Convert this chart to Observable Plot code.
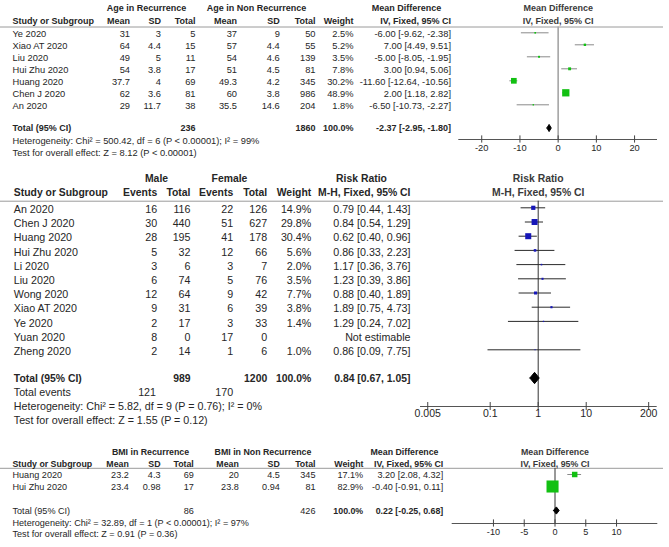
<!DOCTYPE html>
<html><head><meta charset="utf-8">
<script src="https://cdn.jsdelivr.net/npm/d3@7"></script>
<script src="https://cdn.jsdelivr.net/npm/@observablehq/plot@0.6"></script>
<style>
body{margin:0;background:#fff;}
#chart{width:669px;}
#chart svg{display:block;overflow:visible;}
</style></head><body><div id="chart"></div>
<script>
// ---------- Panel 1: Age ----------
const ageStudies = ["Ye 2020","Xiao AT 2020","Liu 2020","Hui Zhu 2020","Huang 2020","Chen J 2020","An 2020"];
const ageRecMean = [31,64,49,54,37.7,62,29];
const ageRecSD   = [3,4.4,5,3.8,4,3.6,11.7];
const ageRecN    = [5,15,11,17,69,81,38];
const ageNonMean = [37,57,54,51,49.3,60,35.5];
const ageNonSD   = [9,4.4,4.6,4.5,4.2,3.8,14.6];
const ageNonN    = [50,55,139,81,345,986,204];
const ageWeight  = [2.5,5.2,3.5,7.8,30.2,48.9,1.8];
const ageMD      = [-6.00,7.00,-5.00,3.00,-11.60,2.00,-6.50];
const ageLo      = [-9.62,4.49,-8.05,0.94,-12.64,1.18,-10.73];
const ageHi      = [-2.38,9.51,-1.95,5.06,-10.56,2.82,-2.27];
const ageTotal   = {n1:236, n2:1860, w:100.0, est:-2.37, lo:-2.95, hi:-1.80};
const ageHet     = "Heterogeneity: Chi² = 500.42, df = 6 (P < 0.00001); I² = 99%";
const ageTest    = "Test for overall effect: Z = 8.12 (P < 0.00001)";
const ageTicks   = [-20,-10,0,10,20];

// ---------- Panel 2: Sex ----------
const sexStudies = ["An 2020","Chen J 2020","Huang 2020","Hui Zhu 2020","Li 2020","Liu 2020","Wong 2020","Xiao AT 2020","Ye 2020","Yuan 2020","Zheng 2020"];
const maleEvents = [16,30,28,5,3,6,12,9,2,8,2];
const maleTotal  = [116,440,195,32,6,74,64,31,17,0,14];
const femEvents  = [22,51,41,12,3,5,9,6,3,17,1];
const femTotal   = [126,627,178,66,7,76,42,39,33,0,6];
const sexWeight  = [14.9,29.8,30.4,5.6,2.0,3.5,7.7,3.8,1.4,null,1.0];
const sexRR      = [0.79,0.84,0.62,0.86,1.17,1.23,0.88,1.89,1.29,null,0.86];
const sexLo      = [0.44,0.54,0.40,0.33,0.36,0.39,0.40,0.75,0.24,null,0.09];
const sexHi      = [1.43,1.29,0.96,2.23,3.76,3.86,1.89,4.73,7.02,null,7.75];
const sexTotal   = {n1:989, n2:1200, w:100.0, est:0.84, lo:0.67, hi:1.05, ev1:121, ev2:170};
const sexHet     = "Heterogeneity: Chi² = 5.82, df = 9 (P = 0.76); I² = 0%";
const sexTest    = "Test for overall effect: Z = 1.55 (P = 0.12)";
const sexTicks   = [0.005,0.1,1,10,200];

// ---------- Panel 3: BMI ----------
const bmiStudies = ["Huang 2020","Hui Zhu 2020"];
const bmiRecMean = [23.2,23.4];
const bmiRecSD   = [4.3,0.98];
const bmiRecN    = [69,17];
const bmiNonMean = [20,23.8];
const bmiNonSD   = [4.5,0.94];
const bmiNonN    = [345,81];
const bmiWeight  = [17.1,82.9];
const bmiMD      = [3.20,-0.40];
const bmiLo      = [2.08,-0.91];
const bmiHi      = [4.32,0.11];
const bmiTotal   = {n1:86, n2:426, w:100.0, est:0.22, lo:-0.25, hi:0.68};
const bmiHet     = "Heterogeneity: Chi² = 32.89, df = 1 (P < 0.00001); I² = 97%";
const bmiTest    = "Test for overall effect: Z = 0.91 (P = 0.36)";
const bmiTicks   = [-10,-5,0,5,10];

// ---------- helpers ----------
const FONT = "'Liberation Sans', Arial, sans-serif";
const INK = "#262626";
const W = 669;
const f2 = v => v.toFixed(2);
const ci = (e,l,h) => `${f2(e)} [${f2(l)}, ${f2(h)}]`;
const pct = w => w.toFixed(1) + "%";

function colText(rows, text, x, o = {}) {
  return Plot.text(rows, {
    y: o.y ?? "r", text, frameAnchor: "left", dx: x,
    textAnchor: o.anchor ?? "end", lineAnchor: "middle",
    fontSize: o.size, fontWeight: o.bold ? "bold" : "normal",
    fill: INK, dy: o.dy ?? 0
  });
}
function label(str, x, r, o = {}) {
  return colText([str], d => d, x, {...o, y: () => r});
}
function diamond(t, R, h) {
  return [{x:t.lo,y:R},{x:t.est,y:R-h},{x:t.hi,y:R},{x:t.est,y:R+h},{x:t.lo,y:R}];
}
function forestMarks(cfg) {
  const d = cfg.xDomain;
  return [
    Plot.ruleY([cfg.headLineR], {stroke: "#9a9a9a", strokeWidth: 1}),
    Plot.ruleX([cfg.nullValue], {y1: () => cfg.headLineR, y2: () => cfg.axisR, stroke: cfg.zeroColor, strokeWidth: cfg.zeroWidth}),
    Plot.ruleY([cfg.axisR], {x1: () => d[0], x2: () => d[1], stroke: "#555"}),
    Plot.ruleX(cfg.ticks, {x: t => t, y1: () => cfg.axisR - cfg.tickHalf, y2: () => cfg.axisR + cfg.tickHalf, stroke: "#444"}),
    Plot.text(cfg.ticks, {x: t => t, text: t => String(t), frameAnchor: "bottom", lineAnchor: "top", dy: cfg.tickPad, fontSize: cfg.tickFont, fill: INK}),
    Plot.ruleY(cfg.rows, {y: "r", x1: "lo", x2: "hi", stroke: cfg.ciColor}),
    Plot.dot(cfg.rows, {x: "est", y: "r", r: "w", symbol: "square", fill: cfg.color, stroke: "none"}),
    Plot.line(diamond(cfg.total, cfg.totalR, cfg.diamondH), {x: "x", y: "y", fill: "black", stroke: "black", strokeWidth: 1}),
    Plot.text([cfg.top1, cfg.top2], {x: () => cfg.center, y: (_, i) => i === 0 ? cfg.headR1 : cfg.headR2, text: t => t, fontWeight: "bold", fontSize: cfg.headFont, fill: "#3a3a3a", textAnchor: "middle"})
  ];
}
function makePlot(cfg, marks) {
  return Plot.plot({
    width: W, height: cfg.height,
    marginLeft: 0, marginRight: 6, marginTop: 0, marginBottom: cfg.marginBottom,
    style: {fontFamily: FONT, fontSize: cfg.font + "px", color: INK, background: "white", overflow: "visible"},
    x: {type: cfg.xType, domain: cfg.xDomain, range: cfg.xRange, axis: null},
    y: {type: "linear", domain: [0, 1], range: [cfg.y0, cfg.y0 + cfg.step], axis: null},
    r: {type: "sqrt", domain: [0, cfg.rMaxW], range: [0, cfg.rMax]},
    marks: [...forestMarks(cfg), ...marks]
  });
}
const chart = document.getElementById("chart");

// ---------- Panel 1 ----------
{
  const rows = ageStudies.map((s, i) => ({r: i, study: s, m1: ageRecMean[i], s1: ageRecSD[i], n1: ageRecN[i], m2: ageNonMean[i], s2: ageNonSD[i], n2: ageNonN[i], w: ageWeight[i], est: ageMD[i], lo: ageLo[i], hi: ageHi[i]}));
  const step = 12, y0 = 32.3, px = y => (y - y0) / step;
  const cfg = {
    height: 165, marginBottom: 26, font: 9.3, y0, step,
    xType: "linear", xDomain: [-26, 26], xRange: [458.3, 657], center: 0, nullValue: 0,
    headLineR: px(26.5), axisR: px(139), headR1: px(7.5), headR2: px(20.5),
    ticks: ageTicks, tickHalf: 0.3, tickPad: 5, tickFont: 9.3,
    rows, rMaxW: 48.9, rMax: 4.1, color: "#12c012", ciColor: "#8a8a8a", zeroColor: "#a5a5a5", zeroWidth: 1.6,
    total: ageTotal, totalR: px(127.5), diamondH: 0.3,
    top1: "Mean Difference", top2: "IV, Fixed, 95% CI", headFont: 9
  };
  const hs = 9, dy = 1, tr = px(127.3);
  const marks = [
    label("Age in Recurrence", 146, cfg.headR1, {anchor: "middle", bold: true, size: hs}),
    label("Age in Non Recurrence", 256, cfg.headR1, {anchor: "middle", bold: true, size: hs}),
    label("Mean Difference", 406, cfg.headR1, {anchor: "middle", bold: true, size: hs}),
    label("Study or Subgroup", 12, cfg.headR2, {anchor: "start", bold: true, size: hs}),
    label("Mean", 129.5, cfg.headR2, {bold: true, size: hs}),
    label("SD", 160.5, cfg.headR2, {bold: true, size: hs}),
    label("Total", 195, cfg.headR2, {bold: true, size: hs}),
    label("Mean", 236.5, cfg.headR2, {bold: true, size: hs}),
    label("SD", 279.3, cfg.headR2, {bold: true, size: hs}),
    label("Total", 315, cfg.headR2, {bold: true, size: hs}),
    label("Weight", 353, cfg.headR2, {bold: true, size: hs}),
    label("IV, Fixed, 95% CI", 450.5, cfg.headR2, {bold: true, size: hs}),
    colText(rows, d => d.study, 12, {anchor: "start", dy}),
    colText(rows, d => String(d.m1), 129.5, {dy}),
    colText(rows, d => String(d.s1), 160.5, {dy}),
    colText(rows, d => String(d.n1), 195, {dy}),
    colText(rows, d => String(d.m2), 236.5, {dy}),
    colText(rows, d => String(d.s2), 279.3, {dy}),
    colText(rows, d => String(d.n2), 315, {dy}),
    colText(rows, d => pct(d.w), 353, {dy}),
    colText(rows, d => ci(d.est, d.lo, d.hi), 450.5, {dy}),
    label("Total (95% CI)", 12, tr, {anchor: "start", bold: true, size: hs}),
    label(String(ageTotal.n1), 195, tr, {bold: true, size: hs}),
    label(String(ageTotal.n2), 315, tr, {bold: true, size: hs}),
    label(pct(ageTotal.w), 353, tr, {bold: true, size: hs}),
    label(ci(ageTotal.est, ageTotal.lo, ageTotal.hi), 450.5, tr, {bold: true, size: hs}),
    label(ageHet, 12, px(141), {anchor: "start"}),
    label(ageTest, 12, px(152.5), {anchor: "start"})
  ];
  chart.appendChild(makePlot(cfg, marks));
}

// ---------- Panel 2 ----------
{
  const rows = sexStudies.map((s, i) => ({r: i, study: s, e1: maleEvents[i], n1: maleTotal[i], e2: femEvents[i], n2: femTotal[i], w: sexWeight[i], est: sexRR[i], lo: sexLo[i], hi: sexHi[i]}));
  const step = 14.2, y0 = 42.3, px = y => (y - y0) / step;
  const cfg = {
    height: 275, marginBottom: 34, font: 10.7, y0, step,
    xType: "log", xDomain: [Math.pow(10, -2.452), Math.pow(10, 2.479)], xRange: [420, 656.7], center: 1, nullValue: 1,
    headLineR: px(35.7), axisR: px(241), headR1: px(13.5), headR2: px(27.5),
    ticks: sexTicks, tickHalf: 0.28, tickPad: 3.5, tickFont: 10.5,
    rows, rMaxW: 30.4, rMax: 3.4, color: "#1616b8", ciColor: "#2a2a2a", zeroColor: "#333", zeroWidth: 1,
    total: sexTotal, totalR: px(212.5), diamondH: 0.4,
    top1: "Risk Ratio", top2: "M-H, Fixed, 95% CI", headFont: 10.4
  };
  const hs = 10.4, dy = 1.8, tr = px(213.3);
  const marks = [
    label("Male", 156, cfg.headR1, {anchor: "middle", bold: true, size: hs}),
    label("Female", 229, cfg.headR1, {anchor: "middle", bold: true, size: hs}),
    label("Risk Ratio", 361, cfg.headR1, {anchor: "middle", bold: true, size: hs}),
    label("Study or Subgroup", 13.3, cfg.headR2, {anchor: "start", bold: true, size: hs}),
    label("Events", 156.7, cfg.headR2, {bold: true, size: hs}),
    label("Total", 190, cfg.headR2, {bold: true, size: hs}),
    label("Events", 232.7, cfg.headR2, {bold: true, size: hs}),
    label("Total", 266.7, cfg.headR2, {bold: true, size: hs}),
    label("Weight", 310.7, cfg.headR2, {bold: true, size: hs}),
    label("M-H, Fixed, 95% CI", 410, cfg.headR2, {bold: true, size: hs}),
    colText(rows, d => d.study, 13.3, {anchor: "start", dy}),
    colText(rows, d => String(d.e1), 156.7, {dy}),
    colText(rows, d => String(d.n1), 190, {dy}),
    colText(rows, d => String(d.e2), 232.7, {dy}),
    colText(rows, d => String(d.n2), 266.7, {dy}),
    colText(rows, d => d.w == null ? "" : pct(d.w), 310.7, {dy}),
    colText(rows, d => d.est == null ? "Not estimable" : ci(d.est, d.lo, d.hi), 410, {dy}),
    label("Total (95% CI)", 13.3, tr, {anchor: "start", bold: true, size: hs}),
    label(String(sexTotal.n1), 190, tr, {bold: true, size: hs}),
    label(String(sexTotal.n2), 266.7, tr, {bold: true, size: hs}),
    label(pct(sexTotal.w), 310.7, tr, {bold: true, size: hs}),
    label(ci(sexTotal.est, sexTotal.lo, sexTotal.hi), 410, tr, {bold: true, size: hs}),
    label("Total events", 13.3, px(227.5), {anchor: "start"}),
    label(String(sexTotal.ev1), 155.5, px(227.5)),
    label(String(sexTotal.ev2), 232.7, px(227.5)),
    label(sexHet, 13.3, px(241.5), {anchor: "start"}),
    label(sexTest, 13.3, px(255), {anchor: "start"})
  ];
  chart.appendChild(makePlot(cfg, marks));
}

// ---------- Panel 3 ----------
{
  const rows = bmiStudies.map((s, i) => ({r: i, study: s, m1: bmiRecMean[i], s1: bmiRecSD[i], n1: bmiRecN[i], m2: bmiNonMean[i], s2: bmiNonSD[i], n2: bmiNonN[i], w: bmiWeight[i], est: bmiMD[i], lo: bmiLo[i], hi: bmiHi[i]}));
  const step = 12, y0 = 34, px = y => (y - y0) / step;
  const cfg = {
    height: 107, marginBottom: 24, font: 9.1, y0, step,
    xType: "linear", xDomain: [-16.7, 16.7], xRange: [451.7, 657.3], center: 0, nullValue: 0,
    headLineR: px(27.8), axisR: px(83), headR1: px(11.5), headR2: px(23.3),
    ticks: bmiTicks, tickHalf: 0.3, tickPad: 4.8, tickFont: 9.1,
    rows, rMaxW: 82.9, rMax: 6.8, color: "#12c012", ciColor: "#8a8a8a", zeroColor: "#333", zeroWidth: 1,
    total: bmiTotal, totalR: px(70), diamondH: 0.3,
    top1: "Mean Difference", top2: "IV, Fixed, 95% CI", headFont: 8.8
  };
  const hs = 8.8, dy = 1, tr = px(70.5);
  const marks = [
    label("BMI in Recurrence", 150, cfg.headR1, {anchor: "middle", bold: true, size: hs}),
    label("BMI in Non Recurrence", 262.5, cfg.headR1, {anchor: "middle", bold: true, size: hs}),
    label("Mean Difference", 404, cfg.headR1, {anchor: "middle", bold: true, size: hs}),
    label("Study or Subgroup", 12, cfg.headR2, {anchor: "start", bold: true, size: hs}),
    label("Mean", 128.3, cfg.headR2, {bold: true, size: hs}),
    label("SD", 160, cfg.headR2, {bold: true, size: hs}),
    label("Total", 193.3, cfg.headR2, {bold: true, size: hs}),
    label("Mean", 238.3, cfg.headR2, {bold: true, size: hs}),
    label("SD", 279.3, cfg.headR2, {bold: true, size: hs}),
    label("Total", 315, cfg.headR2, {bold: true, size: hs}),
    label("Weight", 363, cfg.headR2, {bold: true, size: hs}),
    label("IV, Fixed, 95% CI", 442.7, cfg.headR2, {bold: true, size: hs}),
    colText(rows, d => d.study, 12, {anchor: "start", dy}),
    colText(rows, d => String(d.m1), 128.3, {dy}),
    colText(rows, d => String(d.s1), 160, {dy}),
    colText(rows, d => String(d.n1), 193.3, {dy}),
    colText(rows, d => String(d.m2), 238.3, {dy}),
    colText(rows, d => String(d.s2), 279.3, {dy}),
    colText(rows, d => String(d.n2), 315, {dy}),
    colText(rows, d => pct(d.w), 362.7, {dy}),
    colText(rows, d => ci(d.est, d.lo, d.hi), 442.7, {dy}),
    label("Total (95% CI)", 12, tr, {anchor: "start"}),
    label(String(bmiTotal.n1), 193.3, tr),
    label(String(bmiTotal.n2), 315, tr),
    label(pct(bmiTotal.w), 362.7, tr, {bold: true, size: hs}),
    label(ci(bmiTotal.est, bmiTotal.lo, bmiTotal.hi), 442.7, tr, {bold: true, size: hs}),
    label(bmiHet, 12, px(82.5), {anchor: "start"}),
    label(bmiTest, 12, px(93.5), {anchor: "start"})
  ];
  chart.appendChild(makePlot(cfg, marks));
}
</script>
</body></html>
